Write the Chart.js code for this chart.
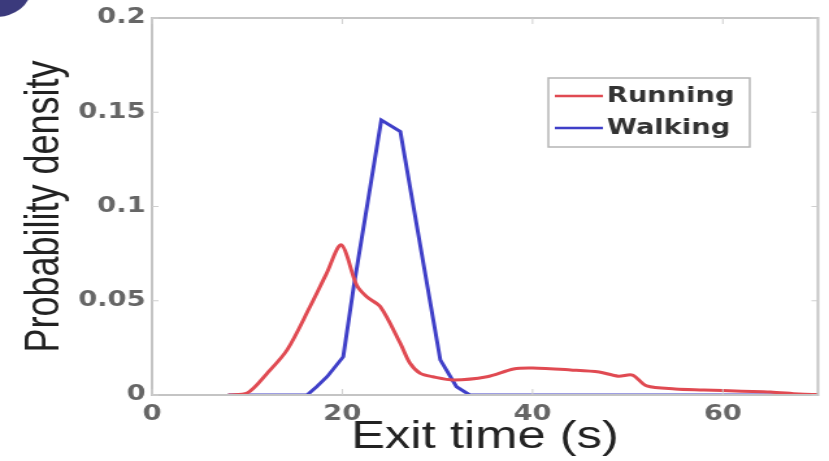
<!DOCTYPE html>
<html>
<head>
<meta charset="utf-8">
<script src="https://cdn.jsdelivr.net/npm/chart.js@4/dist/chart.umd.min.js"></script>
<style>
    html, body { margin: 0; padding: 0; background: #ffffff; }
    /* the source picture is stretched sideways, so the canvas is too */
    #exit-chart { display: block; width: 829px; height: 461px; }
</style>
</head>
<body>
<canvas id="exit-chart" width="638" height="461" style="width:829px;height:461px"></canvas>
<script>
// Data kurva
const xTicks = [0, 20, 40, 60];
const yTicks = [0, 0.05, 0.1, 0.15, 0.2];

const runX = [8, 10, 12.1, 14.2, 16.6, 18.3, 19.9, 21.5, 22.6, 24.0, 26.1, 27.1, 28.2, 29.5, 31.7, 35.2, 38, 40, 44, 47, 49, 50.5, 52, 55, 58, 62, 65, 68, 70];
const runY = [0, 0.001, 0.0115, 0.0239, 0.0468, 0.064, 0.0796, 0.0584, 0.052, 0.0468, 0.0274, 0.017, 0.0115, 0.0097, 0.008, 0.0097, 0.0138, 0.0143, 0.0133, 0.0122, 0.010, 0.0106, 0.0048, 0.0032, 0.0027, 0.002, 0.0016, 0.0005, 0.0002];

const walkX = [8, 16.3, 17.3, 18.4, 20.1, 21.2, 24.1, 26.1, 30.3, 32.0, 33.4, 70];
const walkY = [0, 0, 0.0044, 0.0097, 0.0203, 0.0575, 0.1459, 0.1397, 0.0186, 0.0044, 0, 0];

const labels = ['Running', 'Walking'];

function toPoints(xs, ys) {
    return xs.map((x, i) => ({ x: x, y: ys[i] }));
}

// Bingkai, tanda tick, legenda, dan lingkaran di pojok
const framePlugin = {
    id: 'frame',
    beforeDraw(chart) {
        const ctx = chart.ctx;
        ctx.save();
        ctx.fillStyle = '#3b3a7c';
        ctx.beginPath();
        ctx.ellipse(-3.5, -10, 27, 27, 0, 0, Math.PI * 2);
        ctx.fill();
        ctx.restore();
    },
    afterDraw(chart) {
        const ctx = chart.ctx;
        const a = chart.chartArea;
        const xs = chart.scales.x;
        const ys = chart.scales.y;
        ctx.save();
        ctx.strokeStyle = '#c4c4c4';
        ctx.lineWidth = 2;
        ctx.strokeRect(a.left, a.top, a.right - a.left, a.bottom - a.top);

        ctx.lineWidth = 1;
        ctx.strokeStyle = '#cfcfcf';
        ctx.beginPath();
        xTicks.forEach(v => {
            const px = xs.getPixelForValue(v);
            ctx.moveTo(px, a.bottom); ctx.lineTo(px, a.bottom - 6);
            ctx.moveTo(px, a.top); ctx.lineTo(px, a.top + 6);
        });
        yTicks.forEach(v => {
            const py = ys.getPixelForValue(v);
            ctx.moveTo(a.left, py); ctx.lineTo(a.left + 5, py);
            ctx.moveTo(a.right, py); ctx.lineTo(a.right - 5, py);
        });
        ctx.stroke();

        // Legenda
        const bx = 422, by = 78, bw = 155, bh = 69;
        ctx.fillStyle = '#ffffff';
        ctx.fillRect(bx, by, bw, bh);
        ctx.strokeStyle = '#b5b5b5';
        ctx.lineWidth = 1.5;
        ctx.strokeRect(bx, by, bw, bh);
        ctx.font = 'bold 21px "DejaVu Sans"';
        ctx.textBaseline = 'middle';
        chart.data.datasets.forEach((ds, i) => {
            const ly = by + 18 + i * 32;
            ctx.strokeStyle = ds.borderColor;
            ctx.lineWidth = 2.5;
            ctx.beginPath();
            ctx.moveTo(bx + 5, ly);
            ctx.lineTo(bx + 42, ly);
            ctx.stroke();
            ctx.fillStyle = '#333';
            ctx.fillText(ds.label, bx + 45, ly + 1);
        });
        ctx.restore();
    }
};

const ctx = document.getElementById('exit-chart').getContext('2d');
const exitChart = new Chart(ctx, {
    type: 'line',
    data: {
        datasets: [
            {
                label: labels[0],
                data: toPoints(runX, runY),
                borderColor: '#e04a52',
                borderWidth: 3,
                pointRadius: 0,
                tension: 0.3,
                fill: false
            },
            {
                label: labels[1],
                data: toPoints(walkX, walkY),
                borderColor: '#3f3fc8',
                borderWidth: 3,
                pointRadius: 0,
                tension: 0,
                fill: false
            }
        ]
    },
    options: {
        responsive: false,
        devicePixelRatio: 1,
        animation: false,
        layout: {
            padding: { left: 0, right: 8.5, top: 18, bottom: 0 }
        },
        plugins: {
            legend: { display: false },
            tooltip: { enabled: false }
        },
        scales: {
            x: {
                type: 'linear',
                min: 0,
                max: 70,
                afterBuildTicks: scale => { scale.ticks = xTicks.map(v => ({ value: v })); },
                afterFit: scale => { scale.height = 66; },
                grid: { display: false, drawTicks: false },
                border: { display: false },
                ticks: {
                    padding: 7,
                    color: '#666',
                    font: { family: 'DejaVu Sans', size: 21, weight: 'bold' }
                },
                title: {
                    display: true,
                    text: 'Exit time (s)',
                    color: '#222',
                    padding: 0,
                    font: { family: 'Liberation Sans', size: 39 }
                }
            },
            y: {
                min: 0,
                max: 0.2,
                afterBuildTicks: scale => { scale.ticks = yTicks.map(v => ({ value: v })); },
                afterFit: scale => { scale.width = 117; },
                grid: { display: false, drawTicks: false },
                border: { display: false },
                ticks: {
                    padding: 5,
                    color: '#666',
                    font: { family: 'DejaVu Sans', size: 21, weight: 'bold' },
                    callback: v => String(Number(v.toFixed(3)))
                },
                title: {
                    display: true,
                    text: 'Probability density',
                    color: '#222',
                    padding: { top: 13, bottom: 0 },
                    font: { family: 'Liberation Sans', size: 36 }
                }
            }
        }
    },
    plugins: [framePlugin]
});
</script>
</body>
</html>
